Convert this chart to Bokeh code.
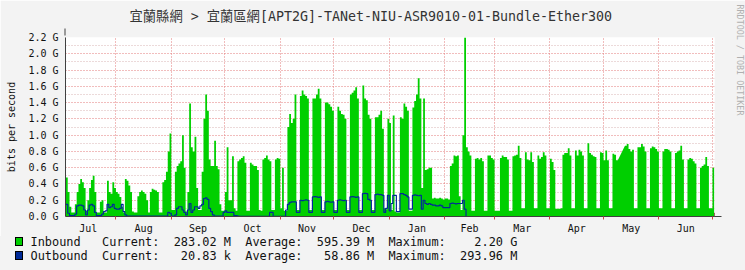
import math
import numpy as np
import pandas as pd
from bokeh.plotting import figure
from bokeh.layouts import column
from bokeh.models import (FixedTicker, PrintfTickFormatter, Arrow, NormalHead, Title,
                          Range1d, ColumnDataSource, Div)
from bokeh.embed import file_html
from bokeh.resources import INLINE

NAN = float("nan")

# ---------------- data (daily values, Mbit/s), first day 2018-07-04 ----------------
START = "2018-07-04"
inbound_mbps = [
    480, 300, 120, 50, 50,
    150, 300, 400, 460, 420, 350, 70,
    200, 350, 450, 500, 300, 50, 50,
    180, 200, 50, 50, 440, 300, 280,
    420, 350, 300, 280, 240, 120, 50,
    460, 440, 380, 300, 60, 50, 50,
    250, 300, 320, 300, 280, 200, 50,
    300, 340, 330, 320, 300, 50, 50,
    420, 450, 550, 800, 1020, 80, 80,
    550, 620, 650, 680, 1000, 600, 60,
    300, 1390, 850, 800, 980, 350, 80,
    80, 550, 1200, 1500, 1300, 700, 620,
    620, 930, 620, 580, 150, 70, 70,
    300, 850, 200, 200, 740, 100, 70,
    680, 700, 720, 740, 660, 70, 70,
    660, 640, 620, 620, 570, 80, 70,
    700, 720, 750, 700, 680, 80, 80,
    700, 720, 710, 100, 600, 70, 70,
    1100, 1260, 1150, 1200, 1500, 80, 80,
    1480, 1550, 1500, 1480, 1450, 80, 80,
    1450, 1450, 1500, 1570, 1450, 80, 80,
    1400, 1400, 1380, 1350, 1300, 80, 80,
    1350, 1300, 1260, 1250, 1200, 80, 80,
    1500, 1520, 1550, 1590, 1450, 80, 80,
    1610, 1450, 1430, 1250, 1200, 80, 80,
    1220, 1220, 1250, 1300, 1080, 100, 90,
    1200, 1150, 80, 1240, 60, 50, 50,
    1220, 1200, 1390, 1350, 1300, 70, 70,
    1340, 1420, 1500, 1700, 1450, 350, 1450,
    570, 580, 600, 600, 220, 230, 220,
    220, 230, 220, 210, 220, 220, 210,
    620, 650, 750, 740, 750, 250, 80,
    1000, 2200, 850, 800, 750, 70, 70,
    710, 720, 700, 720, 680, 70, 70,
    750, 750, 720, 700, 70, 70, 70,
    720, 750, 730, 730, 700, 70, 70,
    740, 750, 760, 870, 720, 100, 100,
    790, 700, 690, 790, 670, 100, 100,
    750, 710, 730, 790, 750, 100, 100,
    710, 670, 570, 95, 95, 95, 100,
    760, 780, 780, 840, 750, 100, 100,
    810, 750, 820, 800, 750, 100, 100,
    900, 780, 760, 740, 730, 100, 100,
    790, 780, 690, 810, 690, 100, 100,
    770, 760, 690, NAN, NAN, NAN, NAN,
    870, 890, 830, 800, 820, 100, 100,
    850, 850, 890, 860, 800, 100, 100,
    840, 860, 850, 830, 800, 100, 100,
    800, 830, 830, 820, 800, 100, 100,
    780, 800, 810, 870, 700, 100, 100,
    700, 720, 710, 680, 650, 100, 100,
    600, 620, 640, 730, 620, 100, 100,
    600,
]
outbound_mbps = [
    150, 40, 10, 10, 10,
    30, 130, 140, 140, 130, 80, 20,
    80, 140, 150, 130, 50, 10, 10,
    10, 30, 60, 70, 150, 110, 120,
    150, 100, 90, 90, 100, 150, 60,
    20, 5, 5, 5, 5, 5, 5,
    5, 5, 5, 5, 5, 5, 5,
    5, 5, 5, 5, 5, 5, 5,
    5, 5, 5, 50, 40, 5, 5,
    20, 100, 120, 120, 80, 50, 20,
    80, 160, 50, 80, 120, 120, 100,
    130, 150, 220, 230, 210, 100, 60,
    20, 5, 5, 5, 5, 5, 50,
    70, 50, 50, 50, 50, 10, 10,
    5, 3, 3, 3, 3, 3, 3,
    3, 3, 3, 3, 3, 3, 3,
    3, 3, 3, 3, 50, 50, 3,
    3, 3, 3, 3, 3, 3, 80,
    150, 170, 180, 180, 180, 50, 50,
    200, 195, 200, 205, 200, 50, 50,
    240, 245, 240, 235, 240, 50, 50,
    180, 185, 180, 175, 180, 50, 50,
    200, 205, 200, 195, 200, 50, 50,
    240, 245, 240, 235, 240, 50, 50,
    280, 285, 280, 210, 200, 50, 50,
    270, 275, 270, 270, 260, 50, 100,
    260, 70, 160, 260, 260, 60, 60,
    280, 280, 270, 260, 240, 90, 90,
    260, 265, 260, 255, 260, 90, 200,
    160, 150, 160, 150, 140, 140, 130,
    130, 140, 130, 110, 110, 110, 110,
    160, 165, 160, 155, 160, 160, 160,
    200, 90, 0, 0, 0, 0, 0,
    0, 0, 0, 0, 0, 0, 0,
    0, 0, 0, 0, 0, 0, 0,
    0, 0, 0, 0, 0, 0, 0,
    0, 0, 0, 0, 0, 0, 0,
    0, 0, 0, 0, 0, 0, 0,
    0, 0, 0, 0, 0, 0, 0,
    0, 0, 0, 0, 0, 0, 0,
    0, 0, 0, 0, 0, 0, 0,
    0, 0, 0, 0, 0, 0, 0,
    0, 0, 0, 0, 0, 0, 0,
    0, 0, 0, 0, 0, 0, 0,
    0, 0, 0, NAN, NAN, NAN, NAN,
    0, 0, 0, 0, 0, 0, 0,
    0, 0, 0, 0, 0, 0, 0,
    0, 0, 0, 0, 0, 0, 0,
    0, 0, 0, 0, 0, 0, 0,
    0, 0, 0, 0, 0, 0, 0,
    0, 0, 0, 0, 0, 0, 0,
    0, 0, 0, 0, 0, 0, 0,
    0,
]
month_names = ["Jul", "Aug", "Sep", "Oct", "Nov", "Dec", "Jan", "Feb", "Mar", "Apr", "May", "Jun"]
month_starts = ["2018-07-01", "2018-08-01", "2018-09-01", "2018-10-01", "2018-11-01", "2018-12-01",
                "2019-01-01", "2019-02-01", "2019-03-01", "2019-04-01", "2019-05-01", "2019-06-01",
                "2019-07-01"]
y_ticks = [0.0, 0.2, 0.4, 0.6, 0.8, 1.0, 1.2, 1.4, 1.6, 1.8, 2.0, 2.2]
y_minor = [0.1, 0.3, 0.5, 0.7, 0.9, 1.1, 1.3, 1.5, 1.7, 1.9, 2.1]
title_text = "宜蘭縣網 > 宜蘭區網[APT2G]-TANet-NIU-ASR9010-01-Bundle-Ether300"
legend_rows = [
    "Inbound   Current:  283.02 M  Average:  595.39 M  Maximum:    2.20 G",
    "Outbound  Current:   20.83 k  Average:   58.86 M  Maximum:  293.96 M",
]
IN_COLOR = "#00CF00"
OUT_COLOR = "#002A97"
BG = "#F3F3F3"

# ---------------- geometry ----------------
W = 745
H_MAIN, H_LEG = 236, 34
FL, FR, FT, FB = 65, 714, 37, 216          # frame edges in pixels (page coords)
PX_PER_DAY = 1.786
DAY_MS = 86400000.0
Y_MAX = 2.2
FONT = "DejaVu Sans Mono"

x0_ms = pd.Timestamp(START).value / 1e6 - 0.25 * DAY_MS
x1_ms = x0_ms + (FR - FL) / PX_PER_DAY * DAY_MS


def sx(px):
    return x0_ms + (px - FL) / PX_PER_DAY * DAY_MS


def sy(py):
    return (FB - py) * Y_MAX / (FB - FT)


n = len(inbound_mbps)
dates = pd.date_range(START, periods=n + 1, freq="D")
inb = [v / 1000.0 for v in inbound_mbps]
outb = [v / 1000.0 for v in outbound_mbps]

area_src = ColumnDataSource(dict(x=dates, y=inb + [inb[-1]]))
line_src = ColumnDataSource(dict(x=dates, y=outb + [outb[-1]]))

p = figure(width=W, height=H_MAIN, output_backend="svg", toolbar_location=None, title=None,
           x_axis_type="datetime",
           x_range=Range1d(x0_ms, x1_ms), y_range=Range1d(0, Y_MAX),
           min_border_left=FL, min_border_right=W - FR, min_border_top=FT,
           min_border_bottom=H_MAIN - FB,
           background_fill_color="white", border_fill_color=BG, outline_line_color=None)

# grids
p.xgrid.ticker = FixedTicker(ticks=[pd.Timestamp(d).value / 1e6 for d in month_starts])
p.xgrid.grid_line_color = "#E27A7A"
p.xgrid.grid_line_dash = "1 2"
ytick = FixedTicker(ticks=y_ticks, minor_ticks=y_minor)
p.ygrid.ticker = ytick
p.ygrid.grid_line_color = "#E27A7A"
p.ygrid.grid_line_dash = "1 2"
p.ygrid.minor_grid_line_color = "#D8B4B4"
p.ygrid.minor_grid_line_dash = "1 2"

# data
p.varea_step(x="x", y1=0, y2="y", step_mode="after", source=area_src, fill_color=IN_COLOR)
p.step(x="x", y="y", mode="after", source=line_src, line_color=OUT_COLOR, line_width=1.2)

# axes
mid_ms = []
for a, b in zip(month_starts[:-1], month_starts[1:]):
    ta, tb = pd.Timestamp(a).value / 1e6, pd.Timestamp(b).value / 1e6
    mid_ms.append((ta + tb) / 2)
xax = p.xaxis[0]
xax.ticker = FixedTicker(ticks=mid_ms, minor_ticks=[pd.Timestamp(d).value / 1e6 for d in month_starts])
xax.major_label_overrides = {m: nme for m, nme in zip(mid_ms, month_names)}
xax.major_tick_line_color = None
xax.major_tick_out = 0
xax.major_tick_in = 0
xax.minor_tick_line_color = "#CC4444"
xax.minor_tick_out = 3
xax.minor_tick_in = 0
xax.axis_line_color = "#404040"
xax.major_label_text_font = FONT
xax.major_label_text_font_size = "10px"
xax.major_label_text_color = "#111111"
xax.major_label_standoff = 3

yax = p.yaxis[0]
yax.ticker = ytick
yax.formatter = PrintfTickFormatter(format="%.1f G")
yax.major_tick_out = 0
yax.major_tick_in = 0
yax.minor_tick_out = 0
yax.minor_tick_in = 0
yax.axis_line_color = "#404040"
yax.major_label_text_font = FONT
yax.major_label_text_font_size = "10px"
yax.major_label_text_color = "#111111"
yax.major_label_standoff = 7
yax.axis_label = "bits per second"
yax.axis_label_text_font = FONT
yax.axis_label_text_font_size = "10px"
yax.axis_label_text_font_style = "normal"
yax.axis_label_text_color = "#111111"
yax.axis_label_standoff = 8

# axis arrows
p.add_layout(Arrow(x_start=sx(64.5), y_start=sy(37), x_end=sx(64.5), y_end=sy(28),
                   line_color="#404040", line_width=1,
                   end=NormalHead(size=7, fill_color="#7F1010", line_color="#7F1010")))
p.add_layout(Arrow(x_start=sx(712), y_start=0, x_end=sx(721), y_end=0,
                   line_color="#404040", line_width=1,
                   end=NormalHead(size=7, fill_color="#7F1010", line_color="#7F1010")))

# title (above, with a spacer next to the frame) and side text (right, with a spacer)
NB = "\u00a0"
p.add_layout(Title(text=NB, text_font_size="1px", standoff=10), "above")
p.add_layout(Title(text=title_text, align="left", offset=64, standoff=0, vertical_align="middle",
                   text_font="DejaVu Sans Mono, Noto Sans CJK TC", text_font_size="13.3px",
                   text_font_style="normal", text_color="#333333"), "above")
p.add_layout(Title(text=NB, text_font_size="1px", standoff=16), "right")
p.add_layout(Title(text="RRDTOOL / TOBI OETIKER", align="left", offset=-33, standoff=0,
                   vertical_align="middle",
                   text_font=FONT, text_font_size="8.4px", text_font_style="normal",
                   text_color="#B0B0B0"), "right")

# ---------------- legend strip ----------------
row_c = [241.7 - H_MAIN, 255.7 - H_MAIN]
parts = [f'<div style="position:relative;width:{W}px;height:{H_LEG}px;background:{BG};'
         f'font-family:\'DejaVu Sans Mono\',monospace;font-size:11.9px;color:#111111;">']
for row, col, yc in zip(legend_rows, [IN_COLOR, OUT_COLOR], row_c):
    parts.append(f'<div style="position:absolute;left:15px;top:{yc - 4.5:.1f}px;width:8px;height:9px;'
                 f'box-sizing:border-box;background:{col};border:1px solid #000;"></div>')
    parts.append(f'<div style="position:absolute;left:30.5px;top:{yc - 7:.1f}px;line-height:14px;'
                 f'white-space:pre;">{row}</div>')
parts.append('</div>')
legend_div = Div(text="".join(parts), width=W, height=H_LEG, margin=0,
                 styles={"background-color": BG})

layout = column(p, legend_div, spacing=0)
open("out.html", "w").write(file_html(layout, INLINE))
